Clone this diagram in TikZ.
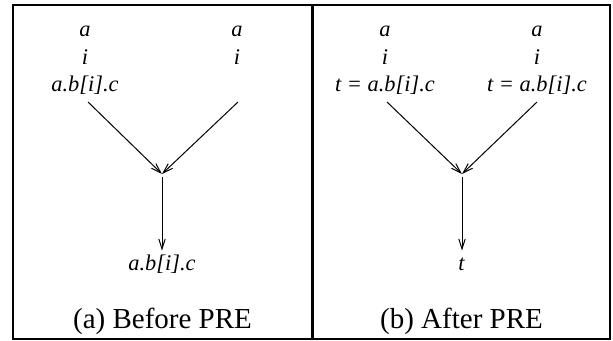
\documentclass[tikz,border=0pt]{standalone}
\usepackage{fontspec}
\setmainfont{Liberation Serif}
\usetikzlibrary{arrows.meta,positioning}
\tikzset{
	expr_text/.style={
		font=\fontsize{11.2}{13.7}\selectfont\itshape,
		inner sep=0pt, anchor=base,
		text height=0.7em, text depth=0.2em
	},
	caption_text/.style={
		font=\fontsize{14.5}{17}\selectfont,
		inner sep=0pt, anchor=base
	},
	flow_arrow/.style={-{Straight Barb[length=5pt,width=3.2pt]}, line width=0.5pt},
	frame/.style={line width=1pt},
	divider/.style={line width=1.5pt}
}

\begin{document}
\begin{tikzpicture}[x=0.5pt,y=-0.5pt]
	\useasboundingbox (0,0) rectangle (613,341);
	\draw[frame] (13,5) rectangle (610,339);
	\draw[divider] (312.5,5) -- (312.5,339);

	% (a) before PRE
	\node[expr_text] (a_a1) at (85,37) {a};
	\node[expr_text] (a_i1) at (85,64.5) {i};
	\node[expr_text] (a_e1) at (85,92) {a.b[i].c};
	\node[expr_text] (a_a2) at (237,37) {a};
	\node[expr_text] (a_i2) at (237,64.5) {i};
	\coordinate (a_s1) at (88,102);
	\coordinate (a_s2) at (238,102);
	\coordinate (a_join) at (162,174);
	\node[expr_text] (a_out) at (162,270) {a.b[i].c};
	\draw[flow_arrow] (a_s1) -- (a_join);
	\draw[flow_arrow] (a_s2) -- (a_join);
	\draw[flow_arrow, shorten <=1.5pt, shorten >=2.5pt] (a_join) -- (a_out.north);
	\node[caption_text] (cap_a) at (162.5,328) {(a) Before PRE};

	% (b) after PRE
	\node[expr_text] (b_a1) at (385,37) {a};
	\node[expr_text] (b_i1) at (385,64.5) {i};
	\node[expr_text] (b_e1) at (385,92) {t = a.b[i].c};
	\node[expr_text] (b_a2) at (537,37) {a};
	\node[expr_text] (b_i2) at (537,64.5) {i};
	\node[expr_text] (b_e2) at (537,92) {t = a.b[i].c};
	\coordinate (b_s1) at (387,102);
	\coordinate (b_s2) at (537,102);
	\coordinate (b_join) at (462,174);
	\node[expr_text] (b_out) at (461.5,270) {t};
	\draw[flow_arrow] (b_s1) -- (b_join);
	\draw[flow_arrow] (b_s2) -- (b_join);
	\draw[flow_arrow, shorten <=1.5pt, shorten >=2.5pt] (b_join) -- (b_join |- b_out.north);
	\node[caption_text] (cap_b) at (461.5,328) {(b) After PRE};
\end{tikzpicture}
\end{document}
